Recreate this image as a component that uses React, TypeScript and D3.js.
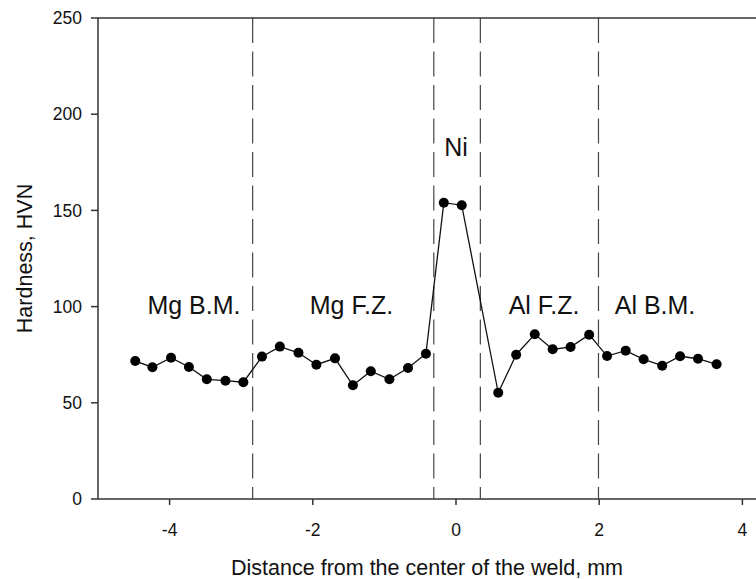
import React from "react";
import * as d3 from "d3";

const distance = [
  -4.48, -4.24, -3.98, -3.73, -3.48, -3.22, -2.97, -2.71, -2.46, -2.2, -1.95,
  -1.69, -1.44, -1.19, -0.93, -0.67, -0.42, -0.17, 0.08, 0.59, 0.84, 1.1, 1.35,
  1.6, 1.86, 2.11, 2.37, 2.62, 2.88, 3.13, 3.38, 3.64,
];
const hardness = [
  71.7, 68.5, 73.4, 68.6, 62.2, 61.5, 60.7, 74.0, 79.2, 76.0, 69.8, 73.1, 59.1,
  66.4, 62.2, 68.1, 75.5, 154.0, 152.7, 55.2, 75.0, 85.6, 77.8, 79.0, 85.4,
  74.3, 77.1, 72.6, 69.3, 74.2, 72.9, 70.0,
];
const boundaries = [-2.84, -0.31, 0.34, 1.99];
const zoneLabels = ["Mg B.M.", "Mg F.Z.", "Ni", "Al F.Z.", "Al B.M."];
const zoneLabelX = [-3.66, -1.46, 0.0, 1.23, 2.78];
const zoneLabelY = [96.3, 96.3, 178.3, 96.3, 96.3];
const xTicks = [-4, -2, 0, 2, 4];
const yTicks = [0, 50, 100, 150, 200, 250];

const W = 756;
const H = 579;
const FONT = "'Liberation Sans', Arial, sans-serif";

export default function App() {
  const x = d3.scaleLinear().domain([-5, 4.19]).range([98, 756]);
  const y = d3.scaleLinear().domain([0, 250]).range([499, 18]);
  const pts = distance.map((d, i) => [d, hardness[i]] as [number, number]);
  const line = d3
    .line<[number, number]>()
    .x((d) => x(d[0]))
    .y((d) => y(d[1]));
  const axisColor = "#333";

  return (
    <svg
      width={W}
      height={H}
      style={{ position: "absolute", left: 0, top: 0, background: "#fff" }}
      fontFamily={FONT}
    >
      {/* frame: top line, left axis, bottom axis */}
      <line x1={x(-5)} x2={W} y1={y(250)} y2={y(250)} stroke={axisColor} strokeWidth={1.5} />
      <line x1={x(-5)} x2={x(-5)} y1={y(0)} y2={y(250)} stroke={axisColor} strokeWidth={1.5} />
      <line x1={x(-5)} x2={W} y1={y(0)} y2={y(0)} stroke={axisColor} strokeWidth={1.5} />

      {/* y ticks */}
      {yTicks.map((t) => (
        <g key={"y" + t}>
          <line x1={x(-5) - 7} x2={x(-5)} y1={y(t)} y2={y(t)} stroke={axisColor} strokeWidth={1.5} />
          <text
            x={82}
            y={y(t)}
            dy="0.35em"
            textAnchor="end"
            fontSize={17.5}
            fill="#111"
          >
            {t}
          </text>
        </g>
      ))}

      {/* x ticks */}
      {xTicks.map((t) => (
        <g key={"x" + t}>
          <line x1={x(t)} x2={x(t)} y1={y(0)} y2={y(0) + 6} stroke={axisColor} strokeWidth={1.5} />
          <text x={x(t)} y={536} textAnchor="middle" fontSize={17.5} fill="#111">
            {t}
          </text>
        </g>
      ))}

      {/* boundaries */}
      {boundaries.map((b, i) => (
        <line
          key={"b" + i}
          x1={x(b)}
          x2={x(b)}
          y1={y(250)}
          y2={y(0)}
          stroke="#444"
          strokeWidth={1.2}
          strokeDasharray="25,8.5"
        />
      ))}

      {/* zone labels */}
      {zoneLabels.map((l, i) => (
        <text
          key={"z" + i}
          x={x(zoneLabelX[i])}
          y={y(zoneLabelY[i])}
          textAnchor="middle"
          fontSize={25}
          fill="#111"
        >
          {l}
        </text>
      ))}

      {/* data */}
      <path d={line(pts) || ""} fill="none" stroke="#111" strokeWidth={1.3} />
      {pts.map((p, i) => (
        <circle key={"p" + i} cx={x(p[0])} cy={y(p[1])} r={5} fill="#000" />
      ))}

      {/* axis titles */}
      <text x={427} y={575} textAnchor="middle" fontSize={21.5} fill="#111">
        Distance from the center of the weld, mm
      </text>
      <text
        transform={`translate(32, ${y(125)}) rotate(-90)`}
        textAnchor="middle"
        fontSize={21.5}
        fill="#111"
      >
        Hardness, HVN
      </text>
    </svg>
  );
}
